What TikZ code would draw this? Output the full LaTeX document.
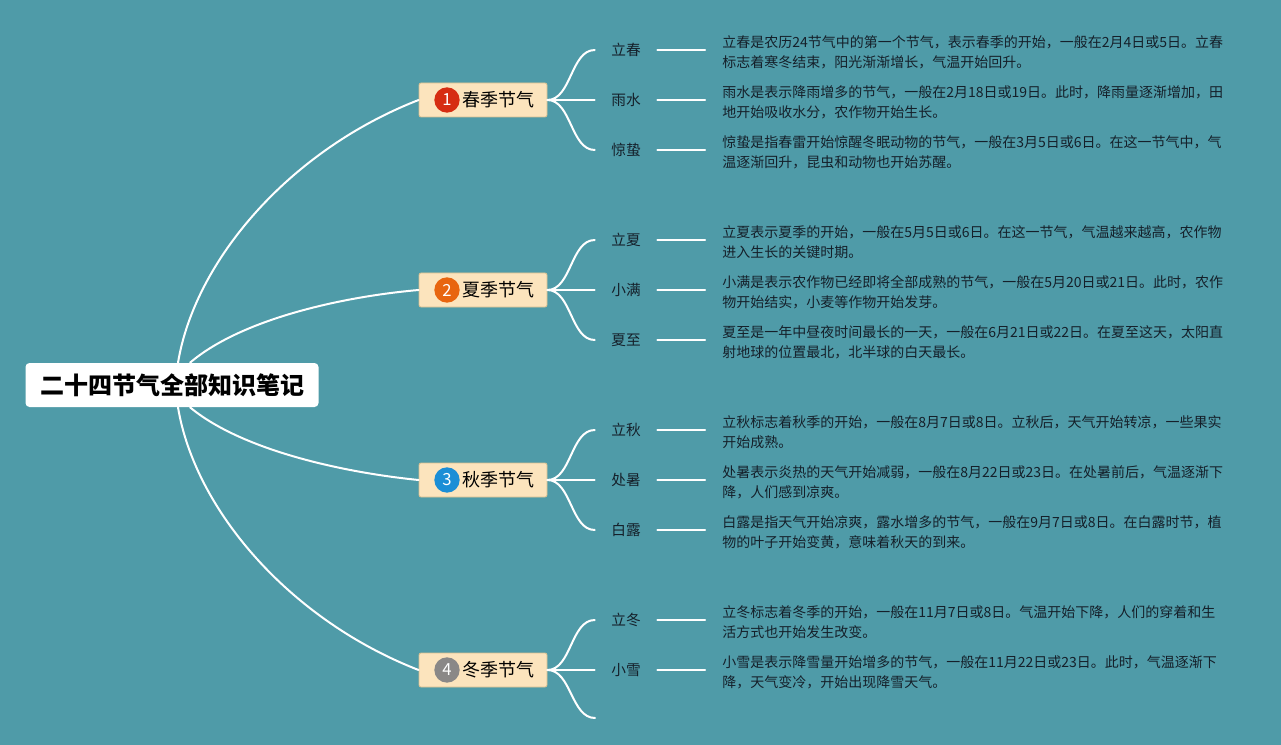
\documentclass[tikz,border=0pt]{standalone}
\usepackage{fontspec}
\setmainfont{Noto Sans CJK SC}
\usepackage{xcolor}
\usepackage{tikz}
\usetikzlibrary{positioning}
\definecolor{bgT}{HTML}{4F9BA8}
\definecolor{boxF}{HTML}{FCE4BD}
\definecolor{boxD}{HTML}{D8BF8F}
\definecolor{cA}{HTML}{D62D12}
\definecolor{cB}{HTML}{E8650F}
\definecolor{cC}{HTML}{1B8ED6}
\definecolor{cD}{HTML}{8A8887}
\definecolor{ink}{HTML}{15202A}
\tikzset{wire/.style={white,line width=1.5pt,line cap=round},
  rootbox/.style={fill=white,rounded corners=3pt,minimum width=219.75pt,minimum height=33pt,font=\fontsize{18pt}{20pt}\selectfont\bfseries},
  seasonbox/.style={draw=boxD,fill=boxF,rounded corners=1.5pt,line width=0.6pt,minimum width=96pt,minimum height=25.5pt},
  badge/.style={circle,inner sep=0pt,minimum size=19pt,text=white,font=\fontsize{12.5pt}{13pt}\selectfont},
  seasonname/.style={inner sep=0pt,text=black,font=\fontsize{13.5pt}{15pt}\selectfont},
  termlbl/.style={minimum width=46.5pt,inner sep=0pt,text=ink,font=\fontsize{11pt}{12pt}\selectfont},
  notetxt/.style={anchor=west,inner xsep=12.75pt,inner ysep=0pt,align=left,text=ink,font=\fontsize{10.5pt}{15pt}\selectfont}}
\newcommand{\term}[4]{% <name> <y> <label> <note>
  \node[termlbl] (#1) at (626,#2) {#3};
  \node[notetxt] (#1n) at (705,#2+2) {#4};
  \draw[wire] (#1.east) -- (#1.east -| #1n.west);}

\begin{document}
\begin{tikzpicture}[x=0.75pt,y=-0.75pt]
  \fill[bgT] (0,0) rectangle (1281,745);
  \useasboundingbox (0,0) rectangle (1281,745);
  \node[rootbox] (root) at (172,385) {二十四节气全部知识笔记};
  \foreach \i/\y/\nm/\c in {1/100/春季节气/cA,2/290/夏季节气/cB,3/480/秋季节气/cC,4/670/冬季节气/cD} {
    \node[seasonbox] (s\i) at (483,\y) {};
    \node[badge,fill=\c] (b\i) at (447,\y) {\i};
    \node[seasonname] (n\i) at (498,\y) {\nm};
  }
  \draw[wire] ([xshift=4.5pt]root.north) .. controls (195,260) and (290,150) .. (s1.west);
  \draw[wire] ([xshift=13.5pt]root.north) .. controls (240,320) and (339,297) .. (s2.west);
  \draw[wire] ([xshift=13.5pt]root.south) .. controls (240,449) and (339,472) .. (s3.west);
  \draw[wire] ([xshift=4.5pt]root.south) .. controls (195,510) and (290,620) .. (s4.west);
  \term{t11}{50}{立春}{立春是农历24节气中的第一个节气，表示春季的开始，一般在2月4日或5日。立春\\标志着寒冬结束，阳光渐渐增长，气温开始回升。}
  \term{t12}{100}{雨水}{雨水是表示降雨增多的节气，一般在2月18日或19日。此时，降雨量逐渐增加，田\\地开始吸收水分，农作物开始生长。}
  \term{t13}{150}{惊蛰}{惊蛰是指春雷开始惊醒冬眠动物的节气，一般在3月5日或6日。在这一节气中，气\\温逐渐回升，昆虫和动物也开始苏醒。}
  \term{t21}{240}{立夏}{立夏表示夏季的开始，一般在5月5日或6日。在这一节气，气温越来越高，农作物\\进入生长的关键时期。}
  \term{t22}{290}{小满}{小满是表示农作物已经即将全部成熟的节气，一般在5月20日或21日。此时，农作\\物开始结实，小麦等作物开始发芽。}
  \term{t23}{340}{夏至}{夏至是一年中昼夜时间最长的一天，一般在6月21日或22日。在夏至这天，太阳直\\射地球的位置最北，北半球的白天最长。}
  \term{t31}{430}{立秋}{立秋标志着秋季的开始，一般在8月7日或8日。立秋后，天气开始转凉，一些果实\\开始成熟。}
  \term{t32}{480}{处暑}{处暑表示炎热的天气开始减弱，一般在8月22日或23日。在处暑前后，气温逐渐下\\降，人们感到凉爽。}
  \term{t33}{530}{白露}{白露是指天气开始凉爽，露水增多的节气，一般在9月7日或8日。在白露时节，植\\物的叶子开始变黄，意味着秋天的到来。}
  \term{t41}{620}{立冬}{立冬标志着冬季的开始，一般在11月7日或8日。气温开始下降，人们的穿着和生\\活方式也开始发生改变。}
  \term{t42}{670}{小雪}{小雪是表示降雪量开始增多的节气，一般在11月22日或23日。此时，气温逐渐下\\降，天气变冷，开始出现降雪天气。}
  \coordinate (t43) at (595,718);
  \foreach \a/\b in {s1/t11,s1/t12,s1/t13,s2/t21,s2/t22,s2/t23,s3/t31,s3/t32,s3/t33,s4/t41,s4/t42}
    \draw[wire] (\a.east) .. controls +(24,0) and +(-24,0) .. (\b.west);
  \draw[wire] (s4.east) .. controls +(24,0) and +(-24,0) .. (t43);
\end{tikzpicture}
\end{document}
